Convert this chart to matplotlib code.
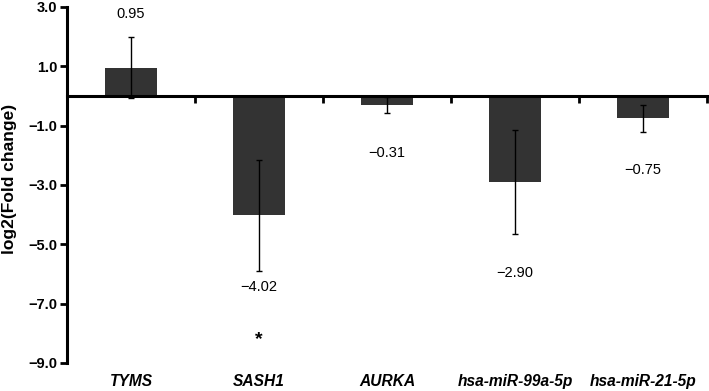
import matplotlib.pyplot as plt
import numpy as np
from matplotlib.transforms import blended_transform_factory

plt.rcParams['font.family'] = ['Liberation Sans', 'DejaVu Sans']

genes = ['TYMS', 'SASH1', 'AURKA', 'hsa-miR-99a-5p', 'hsa-miR-21-5p']
log2_fc = [0.95, -4.02, -0.31, -2.90, -0.75]
errors = [1.03, 1.87, 0.26, 1.74, 0.45]
value_labels = ['0.95', '\u22124.02', '\u22120.31', '\u22122.90', '\u22120.75']
label_y = [2.76, -6.44, -1.92, -5.97, -2.49]
yticks = [-9.0, -7.0, -5.0, -3.0, -1.0, 1.0, 3.0]


def main():
    fig = plt.figure(figsize=(7.09, 3.91), dpi=100)
    ax = fig.add_axes([67 / 709, 28 / 391, 640 / 709, 356 / 391])

    x = np.arange(len(genes))
    ax.bar(x, log2_fc, width=0.4, color='#333333', zorder=2)
    ax.errorbar(x, log2_fc, yerr=errors, fmt='none', ecolor='black',
                elinewidth=1.0, capsize=2.5, capthick=1.0, zorder=3)

    for xi, txt, ly in zip(x, value_labels, label_y):
        ax.text(xi, ly, txt, ha='center', va='center', fontsize=10.5)
    # significance mark under SASH1
    ax.text(1, -8.2, '*', ha='center', va='center', fontsize=14, fontweight='bold')

    ax.set_xlim(-0.5, len(genes) - 0.5)
    ax.set_ylim(-9.0, 3.0)
    ax.set_yticks(yticks)
    ax.set_yticklabels(['\u2212%.1f' % abs(v) if v < 0 else '%.1f' % v for v in yticks],
                       fontweight='bold', fontsize=10.5)
    ax.set_xticks(np.arange(0.5, len(genes), 1.0))
    ax.set_xticklabels([])

    ax.spines['top'].set_visible(False)
    ax.spines['right'].set_visible(False)
    ax.spines['bottom'].set_position(('data', 0))
    ax.spines['left'].set_linewidth(2.2)
    ax.spines['bottom'].set_linewidth(2.2)
    ax.tick_params(axis='y', direction='out', length=5, width=2, pad=2)
    ax.tick_params(axis='x', direction='out', length=5, width=2)

    trans = blended_transform_factory(ax.transData, ax.transAxes)
    for xi, g in zip(x, genes):
        ax.text(xi, -0.052, g, transform=trans, ha='center', va='center',
                fontsize=11.2, fontweight='bold', fontstyle='italic')

    ax.set_ylabel('log2(Fold change)', fontweight='bold', fontsize=12.5)
    ax.yaxis.set_label_coords(-0.078, 0.517)

    fig.savefig('out.png', dpi=100)


if __name__ == "__main__":
    main()
